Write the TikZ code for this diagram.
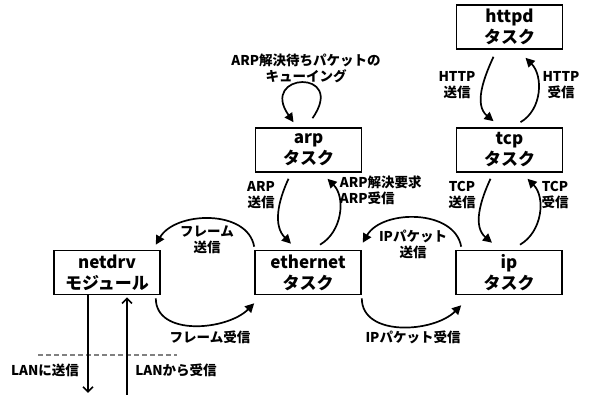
\documentclass[tikz,border=0pt]{standalone}
\usepackage{fontspec}
\setmainfont{Noto Sans CJK JP}
\usetikzlibrary{arrows.meta}
\tikzset{taskbox/.style={draw,line width=1.6pt,minimum width=106pt,minimum height=44pt,inner sep=0pt,align=center,font=\bfseries\fontsize{17}{21}\selectfont}}
\tikzset{lbl/.style={align=center,inner sep=0pt,font=\bfseries\fontsize{13.5}{16}\selectfont}}

\begin{document}
\begin{tikzpicture}[x=1pt,y=1pt,line width=1.7pt,>={Triangle[length=9pt,width=9pt]}]
	\useasboundingbox (0,0) rectangle (590,406);
	\node[taskbox] (netdrv) at (107,133.5) {netdrv\\モジュール};
	\node[taskbox] (eth) at (308,133.5) {ethernet\\タスク};
	\node[taskbox] (ip) at (509,133.5) {ip\\タスク};
	\node[taskbox] (arp) at (308.5,256) {arp\\タスク};
	\node[taskbox] (tcp) at (509.5,256) {tcp\\タスク};
	\node[taskbox] (httpd) at (509.5,379) {httpd\\タスク};
	%
	\node[lbl] (fsend) at (207,166) {フレーム\\送信};
	\node[lbl] (frecv) at (210,69) {フレーム受信};
	\node[lbl] (ipsend) at (413,162) {IPパケット\\送信};
	\node[lbl] (iprecv) at (413,69) {IPパケット受信};
	\node[lbl] (arpsend) at (261,211) {ARP\\送信};
	\node[lbl,align=left,anchor=west] (arprecv) at (339,216) {ARP解決要求\\ARP受信};
	\node[lbl] (tcpsend) at (462,211) {TCP\\送信};
	\node[lbl] (tcprecv) at (555,211) {TCP\\受信};
	\node[lbl] (httpsend) at (457,321) {HTTP\\送信};
	\node[lbl] (httprecv) at (561,321) {HTTP\\受信};
	\node[lbl] (queue) at (306,338) {ARP解決待ちパケットの\\キューイング};
	\node[lbl] (lansend) at (45,36) {LANに送信};
	\node[lbl] (lanrecv) at (176,36) {LANから受信};
	%
	\path[->]
	([yshift=3pt]eth.north west) edge[out=100,in=60] ([xshift=-5pt,yshift=5pt]netdrv.north east)
	([xshift=-5pt,yshift=-3pt]netdrv.south east) edge[out=-90,in=-135] ([yshift=-8pt]eth.south west)
	([xshift=6pt,yshift=3pt]ip.north west) edge[out=100,in=60] ([xshift=1pt,yshift=7pt]eth.north east)
	([yshift=-3pt]eth.south east) edge[out=-90,in=-135] ([xshift=6pt,yshift=-10pt]ip.south west)
	([xshift=-20pt,yshift=-6pt]arp.south) edge[out=-115,in=135] ([xshift=-17pt,yshift=6pt]eth.north)
	([xshift=12pt,yshift=5pt]eth.north) edge[out=30,in=-45] ([xshift=19pt,yshift=-6pt]arp.south)
	([xshift=-19pt,yshift=-6pt]tcp.south) edge[out=-115,in=140] ([xshift=-17pt,yshift=7pt]ip.north)
	([xshift=11pt,yshift=5pt]ip.north) edge[out=30,in=-45] ([xshift=18pt,yshift=-6pt]tcp.south)
	([xshift=-16pt,yshift=-7pt]httpd.south) edge[out=-115,in=140] ([xshift=-16pt,yshift=6pt]tcp.north)
	([xshift=11pt,yshift=5pt]tcp.north) edge[out=30,in=-45] ([xshift=16pt,yshift=-8pt]httpd.south)
	([xshift=4pt,yshift=9pt]arp.north) edge[out=55,in=125,looseness=8] ([xshift=-15pt,yshift=5pt]arp.north);
	%
	\coordinate (lanout) at (88,13);
	\coordinate (lanin) at (127,11);
	\coordinate (dashL) at (38,51);
	\coordinate (dashR) at (177,51);
	\draw[gray,line width=1.2pt,dash pattern=on 5pt off 3pt] (dashL) -- (dashR);
	\draw[-{Straight Barb[length=5pt,width=10pt]}] (netdrv.south -| lanout) -- (lanout);
	\draw[-{Straight Barb[length=5pt,width=10pt]}] (lanin) -- ([yshift=-2pt]lanin |- netdrv.south);
\end{tikzpicture}
\end{document}
